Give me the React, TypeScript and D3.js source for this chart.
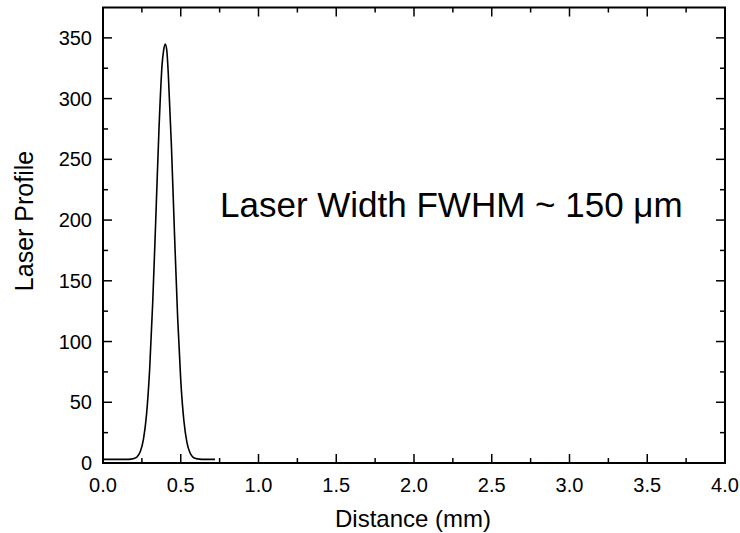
import React from "react";
import * as d3 from "d3";

const distance = [0.0, 0.05, 0.1, 0.15, 0.18, 0.2, 0.22, 0.24, 0.26, 0.28, 0.3, 0.32, 0.34, 0.36, 0.38, 0.39, 0.4, 0.41, 0.42, 0.44, 0.46, 0.48, 0.5, 0.52, 0.54, 0.56, 0.58, 0.6, 0.62, 0.65, 0.68, 0.72];
const profile = [3, 3, 3, 3, 3.2, 3.7, 5.2, 9.4, 19.4, 40, 77, 133, 203, 275, 328, 340, 345, 340, 320, 261, 188, 120, 68, 35, 16.7, 8.2, 4.7, 3.6, 3.2, 3, 3, 3];

const xTicks = [0, 0.5, 1.0, 1.5, 2.0, 2.5, 3.0, 3.5, 4.0];
const yTicks = [0, 50, 100, 150, 200, 250, 300, 350];
const xMinor = [0.25, 0.75, 1.25, 1.75, 2.25, 2.75, 3.25, 3.75];
const yMinor = [25, 75, 125, 175, 225, 275, 325];

const xTitle = "Distance (mm)";
const yTitle = "Laser Profile";
const note = "Laser Width FWHM ~ 150 \u03bcm";

const W = 740;
const H = 533;
const L = 103;
const R = 725;
const T = 7.5;
const B = 463;

export default function App() {
  const x = d3.scaleLinear().domain([0, 4]).range([L, R]);
  const y = d3.scaleLinear().domain([0, 375]).range([B, T]);
  const pts = distance.map((d, i) => [d, profile[i]] as [number, number]);
  const line = d3
    .line<[number, number]>()
    .x((d) => x(d[0]))
    .y((d) => y(d[1]))
    .curve(d3.curveMonotoneX);
  const font = "Arial, 'Liberation Sans', sans-serif";
  const major = 9;
  const minor = 5;
  return (
    <svg width={W} height={H} style={{ position: "absolute", left: 0, top: 0 }} fontFamily={font}>
      <rect width={W} height={H} fill="#fff" />
      <path d={line(pts) || ""} fill="none" stroke="#000" strokeWidth={1.6} />
      {xTicks.map((t) => (
        <g key={"xt" + t}>
          <line x1={x(t)} x2={x(t)} y1={B} y2={B - major} stroke="#000" strokeWidth={1.5} />
          <line x1={x(t)} x2={x(t)} y1={T} y2={T + major} stroke="#000" strokeWidth={1.5} />
          <text x={x(t)} y={492} textAnchor="middle" fontSize={20}>
            {t.toFixed(1)}
          </text>
        </g>
      ))}
      {xMinor.map((t) => (
        <g key={"xm" + t}>
          <line x1={x(t)} x2={x(t)} y1={B} y2={B - minor} stroke="#000" strokeWidth={1.5} />
          <line x1={x(t)} x2={x(t)} y1={T} y2={T + minor} stroke="#000" strokeWidth={1.5} />
        </g>
      ))}
      {yTicks.map((t) => (
        <g key={"yt" + t}>
          <line x1={L} x2={L + major} y1={y(t)} y2={y(t)} stroke="#000" strokeWidth={1.5} />
          <line x1={R} x2={R - major} y1={y(t)} y2={y(t)} stroke="#000" strokeWidth={1.5} />
          <text x={92} y={y(t) + 7} textAnchor="end" fontSize={20}>
            {t}
          </text>
        </g>
      ))}
      {yMinor.map((t) => (
        <g key={"ym" + t}>
          <line x1={L} x2={L + minor} y1={y(t)} y2={y(t)} stroke="#000" strokeWidth={1.5} />
          <line x1={R} x2={R - minor} y1={y(t)} y2={y(t)} stroke="#000" strokeWidth={1.5} />
        </g>
      ))}
      <rect x={L} y={T} width={R - L} height={B - T} fill="none" stroke="#000" strokeWidth={2} />
      <text x={413} y={527} textAnchor="middle" fontSize={24}>
        {xTitle}
      </text>
      <text
        transform={`translate(33, 221) rotate(-90)`}
        textAnchor="middle"
        fontSize={25}
      >
        {yTitle}
      </text>
      <text x={220} y={217} fontSize={35}>
        {note}
      </text>
    </svg>
  );
}
